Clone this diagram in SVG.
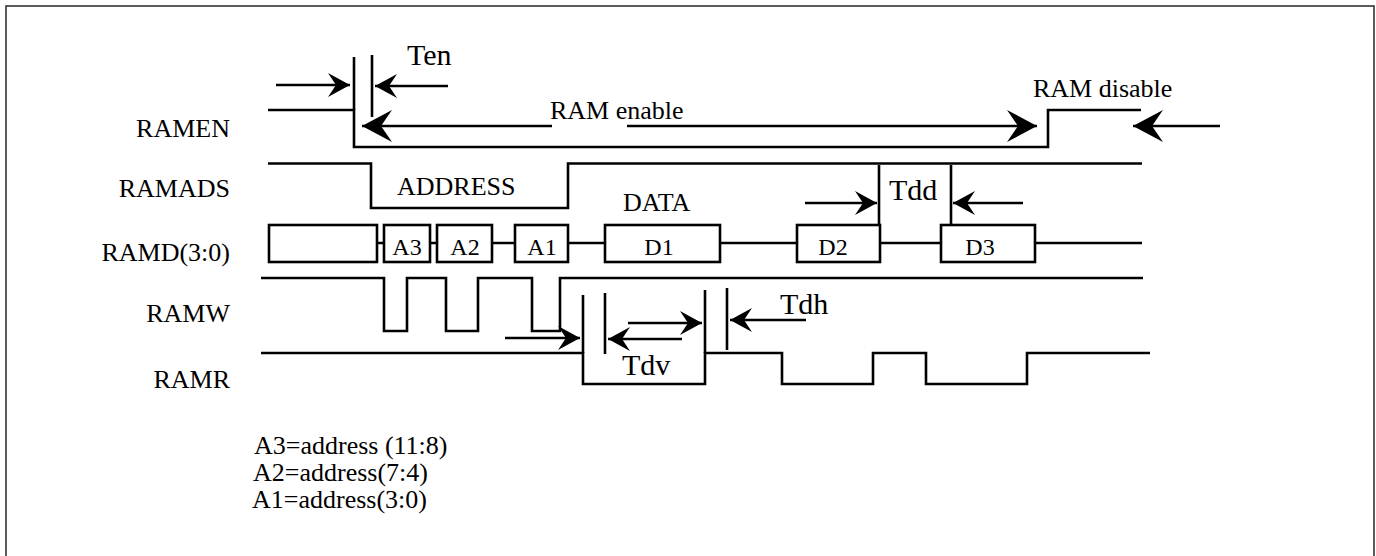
<svg xmlns="http://www.w3.org/2000/svg" width="1376" height="556" viewBox="0 0 1376 556">
<defs>
<style>
.sig{fill:none;stroke:#000;stroke-width:2.6;stroke-linejoin:miter}
.box{fill:#fff;stroke:#000;stroke-width:2.6}
.arr{fill:none;stroke:#000;stroke-width:2.6}
.lbl{font-family:"Liberation Serif","Times New Roman",serif;font-size:26px;fill:#000}
.bx{font-family:"Liberation Serif","Times New Roman",serif;font-size:24px;fill:#000;text-anchor:middle}
.tl{font-family:"Liberation Serif","Times New Roman",serif;font-size:30px;fill:#000}
</style>
<marker id="ah" markerUnits="userSpaceOnUse" markerWidth="24" markerHeight="26" viewBox="-23 -13 24 26" refX="0" refY="0" orient="auto">
<path d="M0,0 L-22,-12 L-14,0 L-22,12 Z" fill="#000"/>
</marker>
<marker id="ahb" markerUnits="userSpaceOnUse" markerWidth="32" markerHeight="34" viewBox="-31 -17 32 34" refX="0" refY="0" orient="auto">
<path d="M0,0 L-30,-16 L-19,0 L-30,16 Z" fill="#000"/>
</marker>
</defs>
<rect x="6" y="6" width="1368" height="570" fill="#fff" stroke="#333" stroke-width="1.6"/>

<g id="labels">
<text class="lbl" x="230" y="137" text-anchor="end">RAMEN</text>
<text class="lbl" x="230" y="197" text-anchor="end">RAMADS</text>
<text class="lbl" x="230" y="261" text-anchor="end">RAMD(3:0)</text>
<text class="lbl" x="230" y="322" text-anchor="end">RAMW</text>
<text class="lbl" x="230" y="388" text-anchor="end">RAMR</text>
</g>

<g id="ramen">
<path class="sig" d="M268,110 H354 V147 H1048 V110 H1141"/>
<line class="sig" x1="354" y1="57" x2="354" y2="110"/>
<line class="sig" x1="372" y1="55" x2="372" y2="117"/>
</g>

<g id="ramads">
<path class="sig" d="M268,163.5 H371 V208 H568 V163.5 H1142"/>
<line class="sig" x1="879" y1="165" x2="879" y2="225"/>
<line class="sig" x1="951" y1="165" x2="951" y2="225"/>
<text class="lbl" x="397" y="195">ADDRESS</text>
<text class="lbl" x="623" y="211">DATA</text>
</g>

<g id="ramd">
<path class="sig" d="M377,243 H384 M430,243 H437 M492,243 H515 M568,243 H605 M720,243 H797 M880,243 H941 M1035,243 H1142"/>
<rect class="box" x="269" y="225" width="108" height="37"/>
<g id="a3"><rect class="box" x="384" y="225" width="46" height="37"/><text class="bx" x="407" y="255">A3</text></g>
<g id="a2"><rect class="box" x="437" y="225" width="55" height="37"/><text class="bx" x="465" y="255">A2</text></g>
<g id="a1"><rect class="box" x="515" y="225" width="53" height="37"/><text class="bx" x="542" y="255">A1</text></g>
<g id="d1"><rect class="box" x="605" y="225" width="115" height="37"/><text class="bx" x="659" y="255">D1</text></g>
<g id="d2"><rect class="box" x="797" y="225" width="83" height="37"/><text class="bx" x="833" y="255">D2</text></g>
<g id="d3"><rect class="box" x="941" y="225" width="94" height="37"/><text class="bx" x="980" y="255">D3</text></g>
</g>

<g id="ramw">
<path class="sig" d="M261,278 H384 V331 H407 V278 H446 V331 H478 V278 H532 V331 H560 V278 H1143"/>
</g>

<g id="ramr">
<path class="sig" d="M261,353 H583 V384 H705 V353 H782 V384 H873 V353 H926 V384 H1027 V353 H1150"/>
<line class="sig" x1="583" y1="295" x2="583" y2="353"/>
<line class="sig" x1="605" y1="293" x2="605" y2="354"/>
<line class="sig" x1="705" y1="290" x2="705" y2="353"/>
<line class="sig" x1="727" y1="288" x2="727" y2="350"/>
</g>

<g id="connectors">
<line class="arr" x1="276" y1="85" x2="350" y2="85" marker-end="url(#ah)"/>
<line class="arr" x1="448" y1="86" x2="375" y2="86" marker-end="url(#ah)"/>
<line class="arr" x1="552" y1="126" x2="362" y2="126" marker-end="url(#ahb)"/>
<line class="arr" x1="627" y1="126" x2="1037" y2="126" marker-end="url(#ahb)"/>
<line class="arr" x1="1220" y1="126" x2="1133" y2="126" marker-end="url(#ahb)"/>
<line class="arr" x1="805" y1="203" x2="877" y2="203" marker-end="url(#ah)"/>
<line class="arr" x1="1023" y1="203" x2="953" y2="203" marker-end="url(#ah)"/>
<line class="arr" x1="505" y1="338" x2="580" y2="338" marker-end="url(#ah)"/>
<line class="arr" x1="628" y1="323" x2="702" y2="323" marker-end="url(#ah)"/>
<line class="arr" x1="682" y1="339" x2="608" y2="339" marker-end="url(#ah)"/>
<line class="arr" x1="806" y1="320" x2="730" y2="320" marker-end="url(#ah)"/>
</g>

<g id="timing-labels">
<text class="tl" x="407" y="65">Ten</text>
<text class="lbl" x="550" y="119">RAM enable</text>
<text class="lbl" x="1033" y="97">RAM disable</text>
<text class="tl" x="889" y="200">Tdd</text>
<text class="tl" x="780" y="314">Tdh</text>
<text class="tl" x="622" y="375">Tdv</text>
</g>

<g id="notes">
<text class="lbl" x="254" y="454">A3=address (11:8)</text>
<text class="lbl" x="253" y="481">A2=address(7:4)</text>
<text class="lbl" x="252" y="508">A1=address(3:0)</text>
</g>
</svg>
